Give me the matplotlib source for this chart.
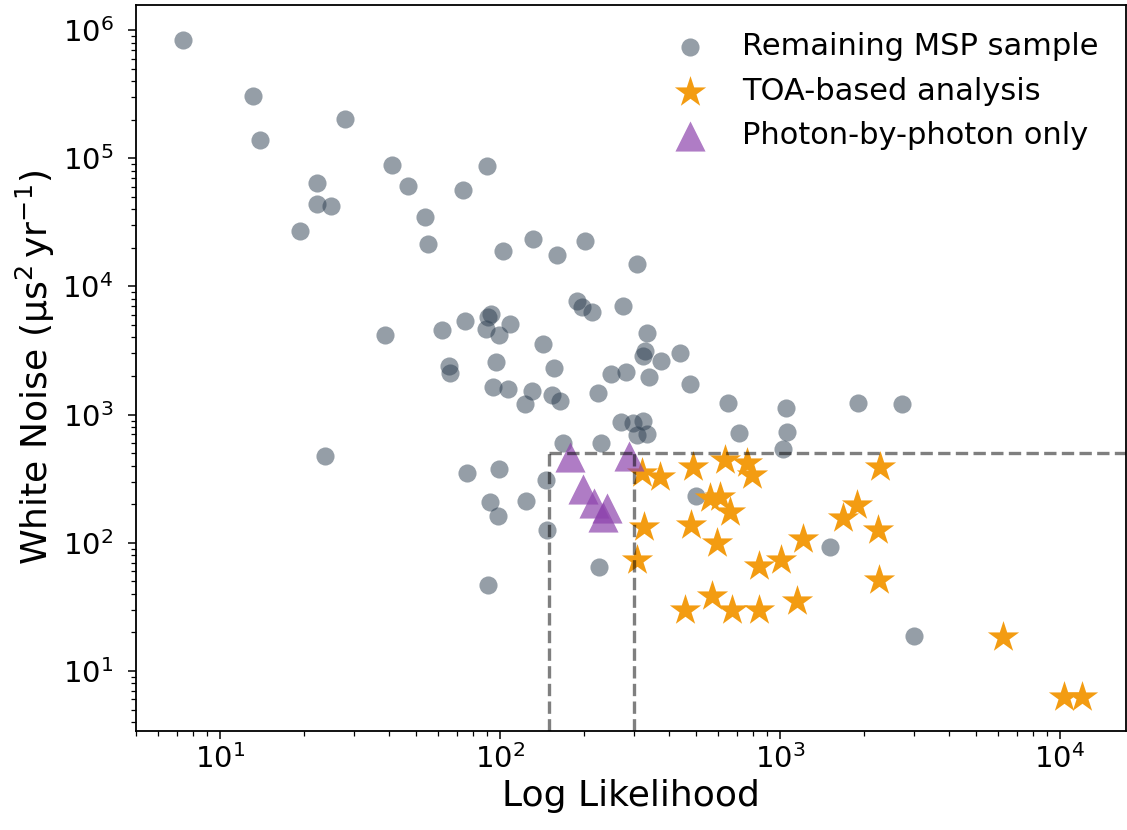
import numpy as np
import matplotlib.pyplot as plt

# remaining MSP sample (log likelihood, white noise)
msp_ll = [7.4, 13.1, 13.9, 27.9, 22.2, 22.2, 24.9, 19.3, 41.1, 46.9,
          73.7, 89.9, 54.0, 55.3, 102.5, 131, 160, 201, 308, 188,
          196, 213, 275, 92.9, 90.6, 75, 62.1, 89.2, 108.6, 99.1,
          38.8, 142.6, 335, 330, 324, 376, 440, 477, 96.8, 65.8,
          66.3, 156, 249, 282, 340, 94.4, 107, 130, 123, 153,
          164, 224, 270, 298, 324, 308, 335, 23.7, 168, 230,
          76.2, 99.1, 146, 652, 1050, 1900, 2730, 714, 1060, 1026,
          92.1, 124, 98.4, 147, 226, 501, 1510, 3010, 90.6]
msp_wn = [8.4e5, 3.05e5, 1.39e5, 2.02e5, 6.4e4, 4.4e4, 4.24e4, 2.7e4, 8.85e4, 6.07e4,
          5.65e4, 8.7e4, 3.47e4, 2.14e4, 1.89e4, 2.34e4, 1.76e4, 2.26e4, 1.5e4, 7.7e3,
          6.9e3, 6.3e3, 7.03e3, 6.1e3, 5.77e3, 5.37e3, 4.57e3, 4.65e3, 5.09e3, 4.18e3,
          4.18e3, 3.56e3, 4.33e3, 3.13e3, 2.86e3, 2.62e3, 3.02e3, 1.73e3, 2.57e3, 2.39e3,
          2.11e3, 2.31e3, 2.08e3, 2.15e3, 1.96e3, 1.64e3, 1.58e3, 1.53e3, 1.21e3, 1.42e3,
          1.28e3, 1.47e3, 875, 860, 891, 693, 706, 475, 600, 600,
          350, 377, 309, 1.23e3, 1.12e3, 1.23e3, 1.21e3, 718, 731, 540,
          208, 212, 162, 126, 64.7, 232, 92.7, 18.7, 46.9]

# TOA-based analysis
toa_ll = [321, 373, 489, 636, 762, 794, 2276, 562, 611, 663,
          327, 481, 596, 308, 1884, 1680, 2240, 1208, 1008, 841,
          2260, 572, 458, 674, 841, 1150, 6250, 10330, 12000]
toa_wn = [350, 326, 390, 443, 419, 338, 390, 223, 228, 174,
          133, 138, 99.6, 73.5, 197, 156, 126, 107, 73.5, 65.9,
          51.3, 38.5, 29.9, 29.9, 29.9, 35.2, 18.4, 6.27, 6.27]

# photon-by-photon only
pbp_ll = [178, 289, 198, 217, 241, 233]
pbp_wn = [467, 475, 263, 204, 187, 159]

ll_cut_lo = 150
ll_cut_hi = 300
wn_cut = 500

fig, ax = plt.subplots(figsize=(11.27, 8.3), dpi=100)
fig.subplots_adjust(left=0.1204, right=0.9991, bottom=0.1196, top=0.994)

ax.scatter(msp_ll, msp_wn, s=170, marker="o", color="#2c3e50", alpha=0.5,
           linewidths=0, label="Remaining MSP sample", zorder=1)
ax.scatter(toa_ll, toa_wn, s=560, marker="*", color="#f39c12",
           linewidths=0, label="TOA-based analysis", zorder=2)
ax.scatter(pbp_ll, pbp_wn, s=470, marker="^", color="#8e44ad", alpha=0.7,
           linewidths=0, label="Photon-by-photon only", zorder=2)

ax.set_xscale("log")
ax.set_yscale("log")
ax.set_xlim(5.0, 17200)
ax.set_ylim(3.42, 1.57e6)

# selection cuts
ymin = ax.get_ylim()[0]
xmax = ax.get_xlim()[1]
ax.plot([ll_cut_lo, ll_cut_lo], [ymin, wn_cut], ls="--", color="k", alpha=0.5, lw=2.4, zorder=3)
ax.plot([ll_cut_hi, ll_cut_hi], [ymin, wn_cut], ls="--", color="k", alpha=0.5, lw=2.4, zorder=3)
ax.plot([ll_cut_lo, xmax], [wn_cut, wn_cut], ls="--", color="k", alpha=0.5, lw=2.4, zorder=3)

ax.set_xlabel("Log Likelihood", fontsize=26)
ax.set_ylabel(r"White Noise ($\mathregular{\mu s^2\,yr^{-1}}$)", fontsize=26)
ax.tick_params(which="major", labelsize=21, length=6, width=1.1)
ax.tick_params(which="minor", length=3.5, width=0.9)
ax.tick_params(axis="y", which="major", pad=10)
for sp in ax.spines.values():
    sp.set_linewidth(1.3)

ax.legend(loc="upper right", frameon=False, fontsize=22, labelspacing=0.5,
          handletextpad=0.7)

fig.savefig("out.png", dpi=100)
